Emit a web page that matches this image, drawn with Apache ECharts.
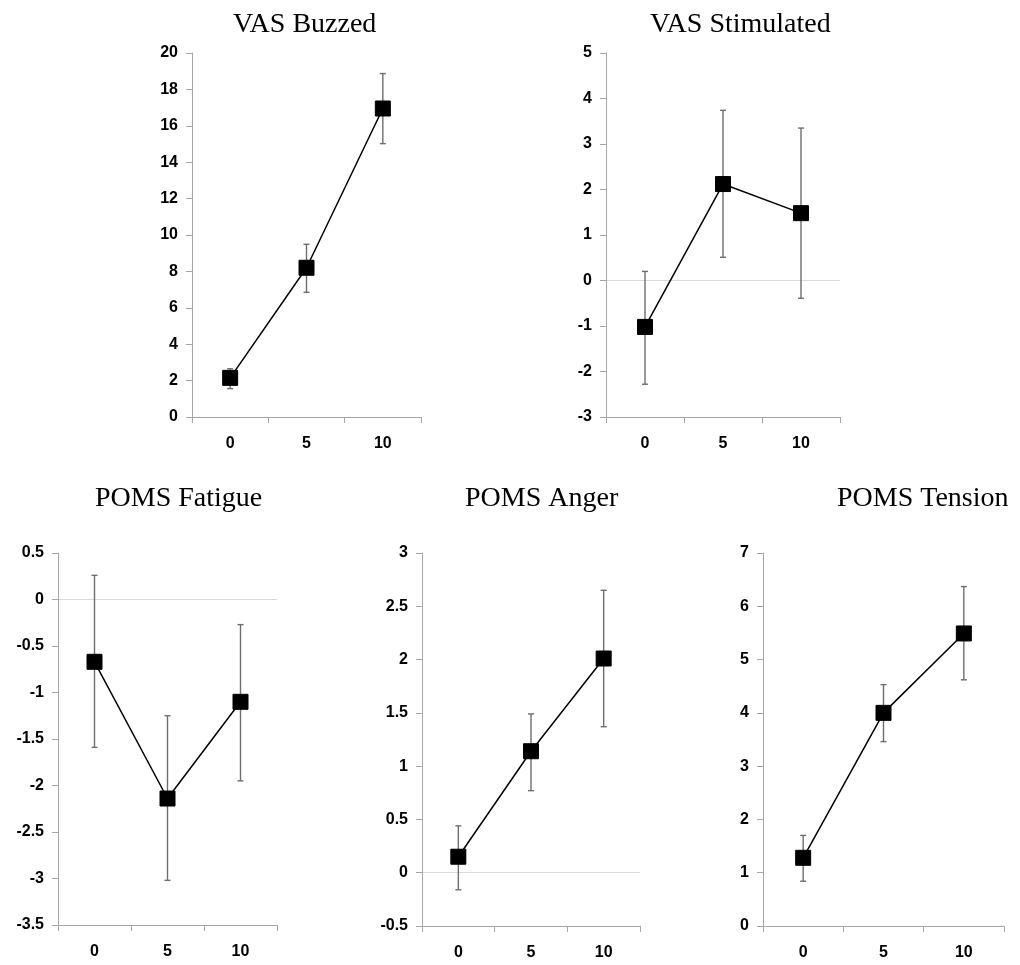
<!DOCTYPE html>
<html>
<head>
<meta charset="utf-8">
<script src="https://cdn.jsdelivr.net/npm/echarts@6/dist/echarts.min.js"></script>
<style>
html,body{margin:0;padding:0;background:#fff;}
#chart{width:1020px;height:965px;}
</style>
</head>
<body>
<div id="chart"></div>
<script>
// ---- Data ----
const categories = ['0', '5', '10'];
const titles = ['VAS Buzzed', 'VAS Stimulated', 'POMS Fatigue', 'POMS Anger', 'POMS Tension'];

const buzzedMean = [2.15, 8.2, 16.95];
const buzzedLow  = [1.56, 6.85, 15.02];
const buzzedHigh = [2.65, 9.49, 18.87];

const stimMean = [-1.02, 2.12, 1.48];
const stimLow  = [-2.28, 0.51, -0.39];
const stimHigh = [0.2, 3.74, 3.35];

const fatigueMean = [-0.67, -2.14, -1.10];
const fatigueLow  = [-1.59, -3.02, -1.95];
const fatigueHigh = [0.26, -1.25, -0.27];

const angerMean = [0.15, 1.14, 2.01];
const angerLow  = [-0.16, 0.77, 1.37];
const angerHigh = [0.44, 1.49, 2.65];

const tensionMean = [1.28, 4.0, 5.49];
const tensionLow  = [0.84, 3.46, 4.62];
const tensionHigh = [1.70, 4.53, 6.37];

const yMin = [0, -3, -3.5, -0.5, 0];
const yMax = [20, 5, 0.5, 3, 7];
const yInterval = [2, 1, 0.5, 0.5, 1];

const means = [buzzedMean, stimMean, fatigueMean, angerMean, tensionMean];
const lows  = [buzzedLow, stimLow, fatigueLow, angerLow, tensionLow];
const highs = [buzzedHigh, stimHigh, fatigueHigh, angerHigh, tensionHigh];

// ---- Layout ----
const grids = [
  {left: 192, top: 53, width: 229, height: 364},
  {left: 606, top: 53, width: 234, height: 364},
  {left: 58, top: 553, width: 219, height: 372},
  {left: 422, top: 553, width: 218, height: 373},
  {left: 763, top: 553, width: 241, height: 373}
];
const titlePos = [
  {left: 233, top: 11},
  {left: 650, top: 11},
  {left: 95, top: 485},
  {left: 465, top: 485},
  {left: 837, top: 485}
];

const axisGray = '#a6a6a6';
const labelStyle = {color: '#000', fontFamily: 'Liberation Sans, Arial, sans-serif', fontWeight: 'bold', fontSize: 16};

const option = {
  backgroundColor: '#fff',
  animation: false,
  title: titles.map((t, i) => ({
    text: t, left: titlePos[i].left, top: titlePos[i].top, padding: 0,
    textStyle: {fontFamily: 'Liberation Serif, Times New Roman, serif', fontWeight: 'normal', fontSize: 28, color: '#000'}
  })),
  grid: grids,
  xAxis: grids.map((g, i) => ({
    type: 'category', gridIndex: i, data: categories, boundaryGap: true,
    axisLine: {show: true, onZero: false, lineStyle: {color: axisGray, width: 1}},
    axisTick: {show: true, alignWithLabel: false, length: 6, lineStyle: {color: axisGray}},
    axisLabel: Object.assign({margin: 19}, labelStyle),
    splitLine: {show: false}
  })),
  yAxis: grids.map((g, i) => ({
    type: 'value', gridIndex: i, min: yMin[i], max: yMax[i], interval: yInterval[i],
    axisLine: {show: true, lineStyle: {color: axisGray, width: 1}},
    axisTick: {show: true, length: 6, lineStyle: {color: axisGray}},
    axisLabel: Object.assign({margin: 14}, labelStyle),
    splitLine: {show: false}
  })),
  series: []
};

means.forEach((m, i) => {
  option.series.push({
    type: 'custom', xAxisIndex: i, yAxisIndex: i, z: 1,
    data: categories.map((c, k) => [k, lows[i][k], highs[i][k]]),
    renderItem: function (params, api) {
      const x = api.value(0);
      const lo = api.coord([x, api.value(1)]);
      const hi = api.coord([x, api.value(2)]);
      const hw = 3;
      const st = {stroke: '#6e6e6e', lineWidth: 1.4};
      return {
        type: 'group',
        children: [
          {type: 'line', shape: {x1: hi[0], y1: hi[1], x2: lo[0], y2: lo[1]}, style: st},
          {type: 'line', shape: {x1: hi[0] - hw, y1: hi[1], x2: hi[0] + hw, y2: hi[1]}, style: st},
          {type: 'line', shape: {x1: lo[0] - hw, y1: lo[1], x2: lo[0] + hw, y2: lo[1]}, style: st}
        ]
      };
    }
  });
  const s = {
    type: 'line', xAxisIndex: i, yAxisIndex: i, z: 3,
    data: m,
    symbol: 'rect', symbolSize: 15,
    itemStyle: {color: '#000', borderColor: '#000'},
    lineStyle: {color: '#000', width: 1.5}
  };
  if (yMin[i] < 0) {
    s.markLine = {
      silent: true, symbol: 'none', z: 0,
      label: {show: false},
      lineStyle: {color: '#d9d9d9', type: 'solid', width: 1},
      data: [{yAxis: 0}]
    };
  }
  option.series.push(s);
});

const chart = echarts.init(document.getElementById('chart'));
chart.setOption(option);
</script>
</body>
</html>
